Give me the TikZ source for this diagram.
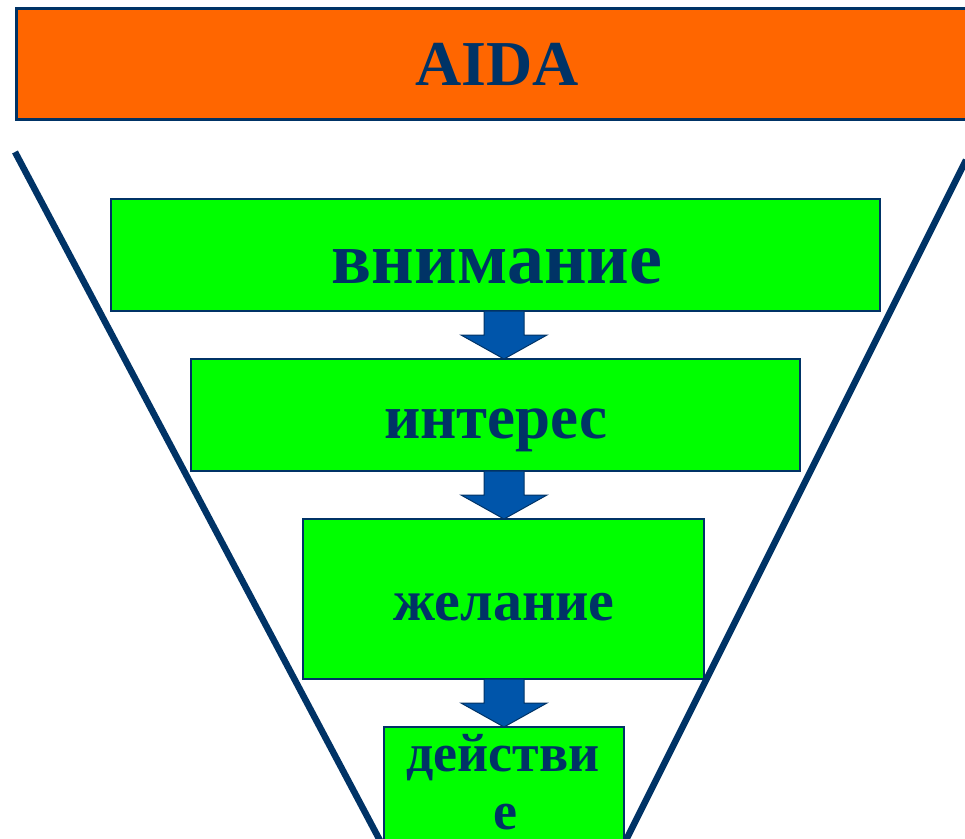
\documentclass[tikz,border=0pt]{standalone}
\usepackage{fontspec}
\setmainfont{Liberation Serif}
\definecolor{navy}{HTML}{003366}
\definecolor{brightorange}{HTML}{FF6600}
\definecolor{brightgreen}{HTML}{00FF00}
\definecolor{arrowblue}{HTML}{0055AA}
\tikzset{
  stage/.style={draw=navy, line width=1.5pt, fill=brightgreen},
  label/.style={text=navy, font=\bfseries, inner sep=0pt, anchor=base},
  funnel/.style={draw=navy, line width=6.5pt},
  downarrow/.style={draw=navy, line width=1pt, fill=arrowblue, line join=miter}
}
\begin{document}
\begin{tikzpicture}[x=1pt,y=-1pt]
\useasboundingbox (0,0) rectangle (965,838);
\clip (0,0) rectangle (965,838);
% title bar
\path[draw=navy, line width=3pt, fill=brightorange] (16,8) rectangle (975,119);
\node[label, font=\fontsize{64}{64}\selectfont\bfseries] (title) at (497,85) {AIDA};
% funnel sides
\coordinate (lt) at (15,152);
\coordinate (lb) at (385,850);
\coordinate (rt) at (966,160);
\coordinate (rb) at (621,850);
\draw[funnel] (lt) -- (lb);
\draw[funnel] (rt) -- (rb);
% stages
\path[stage] (111,199) rectangle (880,311);
\path[stage] (191,359) rectangle (800,471);
\path[stage] (303,519) rectangle (704,679);
\path[stage] (384,727) rectangle (624,860);
\node[label, font=\fontsize{74}{74}\selectfont\bfseries] (s1) at (497,283) {внимание};
\node[label, font=\fontsize{63}{63}\selectfont\bfseries] (s2) at (496,438) {интерес};
\node[label, font=\fontsize{58}{58}\selectfont\bfseries] (s3) at (504,620) {желание};
\node[label, font=\fontsize{54}{54}\selectfont\bfseries] (s4) at (503,771) {действи};
\node[label, font=\fontsize{54}{54}\selectfont\bfseries] (s4b) at (505,829) {е};
% arrows between stages
\foreach \t/\b in {311/359, 471/519, 679/727}{
  \path[downarrow] (484,\t) -- (524,\t) -- (524,\t+24) -- (547,\t+24) -- (504,\b) -- (461,\t+24) -- (484,\t+24) -- cycle;
}
\end{tikzpicture}
\end{document}
